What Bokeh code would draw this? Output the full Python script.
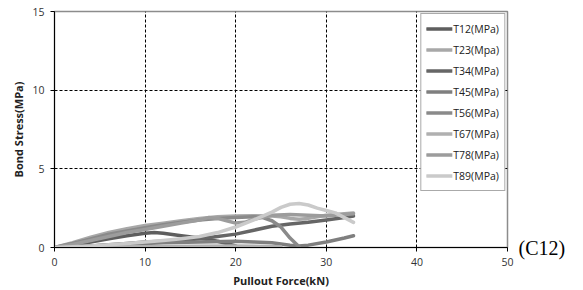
from bokeh.plotting import figure
from bokeh.models import Legend, LegendItem, Range1d, FixedTicker, LinearAxis
from bokeh.embed import file_html
from bokeh.resources import INLINE

# data (Pullout force kN, bond stress MPa)
t12_x = [0, 2, 4, 6, 8, 10, 11, 12, 14, 16, 18, 19, 20]
t12_y = [0, 0.15, 0.35, 0.55, 0.75, 0.9, 0.95, 0.9, 0.75, 0.6, 0.4, 0.25, 0.1]
t23_x = [0, 2, 4, 6, 8, 10, 12, 14, 16, 18, 20, 22, 24, 25, 26, 27, 28, 30, 32, 33]
t23_y = [0, 0.3, 0.65, 0.95, 1.2, 1.4, 1.55, 1.7, 1.85, 1.95, 2.0, 2.02, 2.0, 1.95, 1.85, 1.8, 1.85, 2.05, 2.15, 2.2]
t34_x = [0, 4, 8, 10, 12, 14, 16, 18, 20, 22, 24, 26, 28, 30, 32, 33]
t34_y = [0, 0.1, 0.25, 0.35, 0.4, 0.45, 0.55, 0.7, 0.85, 1.1, 1.35, 1.5, 1.6, 1.75, 1.9, 2.0]
t45_x = [0, 4, 8, 12, 16, 20, 22, 24, 26, 27, 28, 30, 32, 33]
t45_y = [0, 0.1, 0.2, 0.3, 0.35, 0.4, 0.35, 0.3, 0.15, 0.1, 0.15, 0.35, 0.6, 0.75]
t56_x = [0, 2, 4, 6, 8, 10, 12, 14, 16, 18, 20, 22, 23, 24, 25, 26, 27]
t56_y = [0, 0.25, 0.55, 0.85, 1.05, 1.25, 1.45, 1.6, 1.75, 1.85, 1.9, 1.95, 1.9, 1.7, 1.3, 0.6, 0.05]
t67_x = [0, 5, 10, 15, 20, 25]
t67_y = [0, 0.03, 0.05, 0.08, 0.1, 0.05]
t78_x = [0, 2, 4, 6, 8, 10, 12, 14, 16, 17, 18, 19, 20, 21, 22, 24, 26, 28, 30, 32, 33]
t78_y = [0, 0.2, 0.45, 0.7, 0.95, 1.15, 1.35, 1.55, 1.75, 1.9, 1.85, 1.7, 1.55, 1.6, 1.8, 2.05, 2.1, 2.05, 2.0, 2.1, 2.15]
t89_x = [0, 4, 8, 10, 12, 14, 16, 18, 20, 22, 24, 25, 26, 27, 28, 29, 30, 31, 32, 33]
t89_y = [0, 0.1, 0.25, 0.35, 0.45, 0.55, 0.7, 0.95, 1.3, 1.75, 2.25, 2.55, 2.75, 2.8, 2.7, 2.5, 2.35, 2.2, 1.9, 1.6]

names = ["T12(MPa)", "T23(Mpa)", "T34(MPa)", "T45(MPa)", "T56(MPa)", "T67(MPa)", "T78(MPa)", "T89(MPa)"]
series = [(t12_x, t12_y), (t23_x, t23_y), (t34_x, t34_y), (t45_x, t45_y),
          (t56_x, t56_y), (t67_x, t67_y), (t78_x, t78_y), (t89_x, t89_y)]
colors = ["#5e5e5e", "#a8a8a8", "#666666", "#7f7f7f", "#8a8a8a", "#b0b0b0", "#9c9c9c", "#cacaca"]

x_ticks = [0, 10, 20, 30, 40, 50]
y_ticks = [0, 5, 10, 15]
panel_tag = "(C12)"

p = figure(width=575, height=290, output_backend="svg", toolbar_location=None,
           x_range=Range1d(0, 50), y_range=Range1d(0, 15),
           min_border_left=54, min_border_right=68, min_border_top=11, min_border_bottom=43)
p.background_fill_color = "white"
p.outline_line_color = "#8c8c8c"
p.outline_line_width = 1.5

font = "Open Sans"
for ax in (p.xaxis[0], p.yaxis[0]):
    ax.axis_line_color = "black"
    ax.major_tick_line_color = "black"
    ax.major_tick_out = 4
    ax.major_tick_in = 0
    ax.minor_tick_line_color = None
    ax.major_label_text_font = font
    ax.major_label_text_font_size = "10.5px"
    ax.major_label_text_color = "#333333"
    ax.axis_label_text_font = font
    ax.axis_label_text_font_size = "11px"
    ax.axis_label_text_font_style = "bold"
    ax.axis_label_text_color = "#222222"
p.xaxis[0].ticker = FixedTicker(ticks=x_ticks)
p.yaxis[0].ticker = FixedTicker(ticks=y_ticks)
p.xaxis[0].axis_label = "Pullout Force(kN)"
p.yaxis[0].axis_label = "Bond Stress(MPa)"
p.xaxis[0].axis_label_standoff = 4
p.yaxis[0].axis_label_standoff = 3
p.xaxis[0].major_label_standoff = 6
p.yaxis[0].major_label_standoff = 6

# panel tag as a right-side axis label at y=0
tag_axis = LinearAxis(ticker=FixedTicker(ticks=[0]), major_label_overrides={0: panel_tag},
                      axis_line_color=None, major_tick_line_color=None, minor_tick_line_color=None,
                      major_label_text_font="Liberation Serif", major_label_text_font_size="20px",
                      major_label_text_color="black", major_label_standoff=5)
p.add_layout(tag_axis, "right")

for g in (p.xgrid[0], p.ygrid[0]):
    g.grid_line_color = "black"
    g.grid_line_dash = "3 2"
    g.grid_line_width = 1
p.xgrid[0].ticker = FixedTicker(ticks=[10, 20, 30, 40])
p.ygrid[0].ticker = FixedTicker(ticks=[5, 10])

items = []
for name, (xs, ys), c in zip(names, series, colors):
    r = p.line(xs, ys, line_color=c, line_width=3.5, line_join="round", line_cap="round")
    items.append(LegendItem(label=name, renderers=[r]))

legend = Legend(items=items, location="top_right", margin=2, padding=5, spacing=2,
                label_height=19, glyph_height=19, glyph_width=26, label_standoff=1,
                label_text_font=font, label_text_font_size="10.5px", label_text_color="#222222",
                border_line_color="#555555", border_line_width=1.5,
                background_fill_color="white", background_fill_alpha=1)
p.add_layout(legend, "center")

open("out.html", "w").write(file_html(p, INLINE))
